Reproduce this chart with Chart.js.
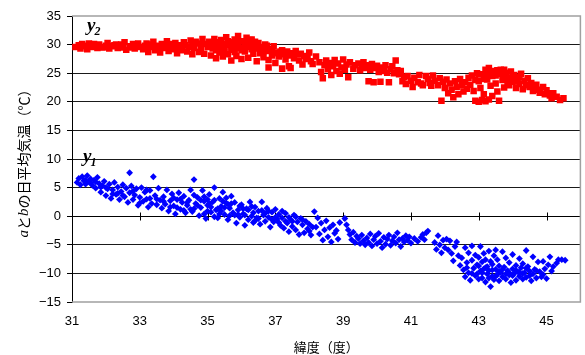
<!DOCTYPE html>
<html>
<head>
<meta charset="utf-8">
<script src="https://cdn.jsdelivr.net/npm/chart.js@4/dist/chart.umd.min.js"></script>
<style>
  html, body { margin: 0; padding: 0; background: #fff; }
  #wrap { width: 585px; height: 355px; }
</style>
</head>
<body>
<div id="wrap"><canvas id="tempChart" width="585" height="355"></canvas></div>
<script>
// 目盛り
const xTicks = [31, 33, 35, 37, 39, 41, 43, 45];
const yTicks = [-15, -10, -5, 0, 5, 10, 15, 20, 25, 30, 35];

// y1: [緯度, 日平均気温]
const y1Points = [
  [31.15,5.9],[31.2,6.6],[31.25,5.5],[31.3,6.9],[31.35,6.2],[31.4,5.6],[31.45,7.1],[31.5,6.0],[31.55,6.5],[31.6,5.4],
  [31.65,6.3],[31.7,4.9],[31.75,6.8],[31.8,5.7],[31.85,4.2],[31.9,5.3],[31.95,6.1],[32.0,3.6],[32.05,4.8],[32.1,5.6],
  [32.15,3.1],[32.2,4.6],[32.25,5.9],[32.3,3.8],[32.35,5.1],[32.4,2.9],[32.45,4.3],[32.5,5.5],[32.55,3.4],[32.6,4.9],[32.7,7.6],
  [32.65,2.4],[32.7,4.1],[32.75,5.3],[32.8,2.9],[32.85,3.7],[32.9,4.8],[32.95,1.9],[33.0,3.3],[33.05,5.0],[33.1,2.6],
  [33.15,4.2],[33.2,3.0],[33.25,1.6],[33.3,4.5],[33.35,2.2],[33.4,6.9],[33.45,3.6],[33.5,2.0],[33.55,4.9],[33.6,2.8],
  [33.65,1.4],[33.7,3.4],[33.75,2.1],[33.8,4.6],[33.85,0.9],[33.9,2.7],[33.95,3.9],[34.0,1.8],[34.05,0.4],[34.1,2.9],
  [34.15,4.1],[34.2,1.2],[34.25,2.4],[34.3,3.5],[34.35,0.6],[34.4,1.9],[34.45,2.8],[34.5,4.6],
  [34.55,0.8],[34.6,6.4],[34.65,2.2],[34.7,3.3],[34.75,0.1],[34.8,1.5],[34.85,4.5],[34.9,2.6],[34.95,-0.4],[35.0,1.9],
  [35.05,3.8],[35.1,0.7],[35.15,2.5],[35.2,5.0],[35.25,1.1],[35.3,-0.3],[35.35,3.1],[35.4,1.7],[35.45,4.2],[35.5,0.3],
  [35.55,2.3],[35.6,-0.6],[35.65,1.4],[35.7,3.5],
  [34.3,1.0],[34.6,1.3],[34.9,0.4],[35.0,2.9],[35.2,-0.1],[35.4,0.9],[35.6,2.1],[35.8,0.2],
  [35.75,0.6],[35.8,2.4],[35.85,-1.2],[35.9,1.1],[35.95,-0.2],[36.0,2.0],[36.05,0.4],[36.1,-1.6],[36.15,1.3],[36.2,-0.6],
  [36.25,2.5],[36.3,0.0],[36.35,-1.1],[36.4,1.6],[36.45,-0.3],
  [36.5,0.9],[36.55,-1.4],[36.6,2.5],[36.65,0.2],[36.7,-0.9],[36.75,1.4],[36.8,-0.2],[36.85,-1.9],[36.9,0.7],[36.95,-1.0],
  [37.0,1.2],[37.05,-0.5],[37.1,0.3],[37.15,-1.6],
  [37.2,-0.3],[37.25,-2.1],[37.3,0.5],[37.35,-1.2],[37.4,-2.7],[37.45,-0.6],[37.5,-1.8],[37.55,0.2],[37.6,-2.4],[37.65,-1.0],
  [37.7,-3.2],[37.75,-0.4],[37.8,-1.5],[37.85,-2.9],[37.9,-0.9],[37.95,-2.2],[38.0,-1.4],[38.05,-3.3],
  [38.15,0.8],[38.2,-1.9],[38.25,-0.3],[38.3,-3.1],[38.35,-1.2],[38.4,-4.2],[38.45,-2.4],[38.5,-0.8],[38.55,-3.6],[38.6,-2.0],
  [38.65,-4.5],[38.7,-1.5],[38.75,-3.0],[38.8,-2.5],[38.85,-4.0],[38.9,-1.1],
  [39.05,-0.4],[39.1,-1.5],[39.15,-2.4],[39.2,-3.2],[39.25,-4.1],[39.3,-2.8],[39.35,-4.6],[39.4,-3.5],[39.45,-3.9],[39.5,-4.8],
  [39.55,-3.3],[39.6,-4.3],[39.65,-5.0],
  [39.7,-3.8],[39.75,-4.6],[39.8,-3.1],[39.85,-5.2],[39.9,-4.1],[39.95,-3.5],[40.0,-4.8],[40.05,-3.0],[40.1,-4.4],[40.15,-5.5],
  [40.2,-3.7],[40.25,-4.9],[40.3,-4.0],[40.35,-3.3],[40.4,-5.1],[40.45,-4.3],[40.5,-3.6],[40.55,-4.7],[40.6,-2.9],[40.65,-4.1],
  [40.7,-5.3],[40.75,-3.9],[40.8,-4.5],[40.85,-3.4],
  [40.9,-4.2],[40.95,-3.6],[41.0,-4.7],[41.1,-3.9],[41.2,-4.4],[41.3,-3.7],[41.35,-3.2],[41.4,-4.1],[41.45,-2.9],[41.5,-2.6],
  [41.7,-4.6],[41.75,-5.8],[41.8,-3.4],[41.85,-5.0],[41.9,-6.4],[41.95,-4.2],[42.0,-5.5],[42.05,-4.0],[42.1,-5.9],[42.15,-4.3],
  [42.2,-6.5],[42.25,-7.8],[42.3,-5.3],[42.35,-4.5],[42.4,-6.9],[42.45,-8.6],
  [42.5,-7.3],[42.55,-9.4],[42.6,-5.5],[42.6,-10.6],[42.65,-8.1],[42.7,-6.4],[42.7,-9.9],[42.75,-11.2],[42.8,-7.7],[42.8,-5.2],
  [42.85,-9.1],[42.9,-10.4],[42.9,-6.8],[42.95,-8.5],[43.0,-11.0],[43.0,-7.2],[43.05,-9.6],[43.05,-5.3],[43.1,-8.0],[43.1,-10.8],
  [43.15,-6.5],[43.15,-9.2],[43.2,-11.5],[43.2,-7.6],[43.25,-8.8],[43.25,-10.1],[43.3,-6.1],[43.3,-9.5],[43.35,-7.9],[43.35,-12.3],
  [43.4,-10.5],[43.4,-8.4],[43.45,-6.9],[43.45,-11.1],[43.5,-9.3],[43.5,-5.9],
  [43.55,-10.2],[43.55,-7.6],[43.6,-8.7],[43.6,-11.3],[43.65,-9.8],[43.7,-6.2],[43.7,-10.6],[43.75,-8.9],[43.8,-11.0],[43.8,-7.3],
  [43.85,-9.5],[43.9,-10.3],[43.9,-8.1],[43.95,-11.6],[44.0,-9.2],[44.0,-6.7],[44.05,-10.0],[44.1,-8.6],[44.1,-11.2],[44.15,-9.7],
  [44.2,-7.4],[44.2,-10.5],[44.25,-9.0],[44.3,-11.0],[44.3,-8.3],[44.35,-9.9],[44.4,-6.0],[44.4,-10.7],[44.45,-8.8],[44.5,-9.6],
  [44.55,-11.3],[44.6,-7.1],[44.6,-10.1],[44.65,-9.3],
  [44.7,-10.8],[44.75,-8.0],[44.8,-9.7],[44.85,-10.6],[44.9,-7.9],[44.95,-9.2],[45.0,-10.9],[45.05,-8.5],[45.1,-7.1],[45.15,-9.6],
  [45.2,-8.8],[45.3,-8.2],[45.35,-7.6],[45.45,-7.6],[45.55,-7.7],
  [31.4,6.3],[31.55,5.8],[31.7,6.0],[31.85,5.1],[32.0,5.0],[32.2,3.9],[32.35,4.0],[32.5,3.6],[32.8,4.4],[33.0,2.3],[33.2,4.6],
  [33.3,3.1],[33.5,3.0],[33.7,2.6],[33.9,1.6],[34.0,3.2],[34.1,1.5],[34.2,3.0],[34.4,2.4],[34.5,1.2],[34.6,3.7],[34.7,1.9],
  [34.8,2.8],[34.9,3.4],[35.0,0.9],[35.05,2.2],[35.1,1.6],[35.2,2.8],[35.3,1.3],[35.35,0.4],[35.45,2.6],[35.5,1.5],[35.55,3.2],
  [35.65,0.1],[35.7,2.2],[35.9,0.3],[35.95,1.8],[36.05,1.3],[36.1,0.2],[36.2,1.1],[36.3,1.7],[36.35,0.6],[36.4,-0.8],[36.5,-0.4],
  [36.6,1.0],[36.7,0.5],[36.8,0.9],[36.9,-0.6],[37.0,-0.2],[37.1,-1.1],[37.2,0.9],[37.3,-0.9],[37.4,-0.2],[37.5,-0.9],[37.6,-0.1],
  [37.8,-0.6],[38.0,-2.6],[38.1,-1.9],
  [42.65,-9.0],[42.8,-10.0],[42.95,-10.1],[43.0,-8.7],[43.1,-9.9],[43.2,-9.0],[43.3,-10.8],[43.4,-9.4],[43.5,-10.5],[43.6,-9.7],
  [43.7,-9.3],[43.8,-10.1],[43.9,-9.9],[44.0,-10.4],[44.1,-9.5],[44.2,-9.8],[44.3,-10.0],[44.4,-9.1],[44.5,-10.4],[44.7,-9.5],[44.9,-10.2]
];

// y2: [緯度, 日平均気温]
const y2Points = [
  [31.1,29.6],[31.2,29.9],[31.25,29.3],[31.3,30.1],[31.4,29.7],[31.45,29.2],[31.5,30.2],[31.6,29.6],[31.7,29.9],[31.75,29.4],
  [31.8,30.0],[31.9,29.5],[32.0,29.8],[32.05,30.3],[32.1,29.3],[32.2,29.7],[32.3,30.0],[32.35,29.4],[32.4,29.8],[32.5,29.5],
  [32.55,30.4],[32.6,29.1],[32.7,29.7],[32.8,30.1],[32.85,29.3],[32.9,29.9],[33.0,29.6],
  [33.1,29.2],[33.2,30.2],[33.25,28.7],[33.3,29.6],[33.4,30.5],[33.45,29.0],[33.5,29.8],[33.6,28.6],[33.65,30.1],[33.7,29.4],
  [33.8,30.6],[33.85,28.9],[33.9,29.7],[34.0,29.2],[34.05,30.3],[34.1,28.5],[34.2,29.9],[34.25,29.0],[34.3,30.4],[34.4,28.8],
  [34.45,29.6],[34.5,30.7],[34.55,28.3],[34.6,29.4],[34.7,30.2],[34.75,28.7],[34.8,29.9],[34.85,31.0],[34.9,28.4],[35.0,29.6],
  [35.05,30.5],[35.1,28.1],[35.15,29.3],[35.2,31.0],[35.25,27.6],[35.3,29.9],[35.35,28.6],[35.4,30.8],[35.45,27.9],[35.5,29.5],
  [35.55,31.3],[35.6,28.3],[35.65,30.2],[35.7,27.2],[35.75,29.1],[35.8,30.9],[35.85,28.0],[35.9,31.5],[35.95,29.4],[36.0,27.5],
  [36.05,30.6],[36.1,28.8],[36.15,31.2],[36.2,27.7],[36.25,29.8],[36.3,30.9],[36.35,28.4],[36.4,29.3],[36.45,27.1],[36.5,30.3],
  [35.3,30.4],[35.6,29.9],[35.9,30.1],[36.0,29.0],[36.2,30.0],[36.3,29.2],[36.45,29.7],[35.8,28.7],[35.15,30.0],[35.5,28.6],
  [36.55,28.5],[36.6,29.6],[36.65,27.8],[36.7,30.0],[36.75,28.9],[36.8,27.3],[36.85,29.2],[36.9,28.1],[36.95,29.7],[37.0,26.8],
  [37.05,28.6],[37.1,27.9],[37.2,29.0],[37.25,28.3],[37.3,27.4],[37.35,28.8],[37.4,26.2],[37.5,28.5],[37.55,27.6],[37.6,28.9],
  [37.7,27.2],[37.75,28.4],[37.8,26.5],[37.85,28.0],[37.9,27.5],[38.0,28.6],[38.05,27.1],[38.1,26.6],[38.2,27.9],
  [36.8,26.0],[37.2,25.8],[37.45,25.9],
  [38.3,26.9],[38.35,25.2],[38.4,24.1],[38.45,26.4],[38.5,27.2],[38.55,25.7],[38.6,26.8],[38.65,24.7],[38.7,26.2],[38.75,27.3],
  [38.8,25.4],[38.85,26.7],[38.9,24.9],[38.95,26.0],[39.0,27.4],[39.05,25.6],[39.1,26.5],[39.15,24.3],[39.2,26.9],[39.3,25.8],
  [39.35,26.4],
  [39.45,26.7],[39.5,25.5],[39.55,26.2],[39.6,26.9],[39.65,25.9],[39.7,26.4],[39.75,23.6],[39.8,25.6],[39.85,26.6],[39.9,23.4],
  [39.95,25.9],[40.0,26.3],[40.05,25.2],[40.1,23.5],[40.15,26.0],[40.2,25.4],[40.25,26.4],[40.3,25.1],[40.35,23.4],[40.4,25.7],
  [40.45,26.2],[40.5,25.0],[40.55,27.2],[40.6,25.5],
  [40.65,24.8],[40.7,25.4],[40.75,23.6],[40.8,24.3],[40.85,23.1],[40.9,24.5],[41.0,23.7],[41.05,22.6],[41.1,24.2],[41.2,23.4],
  [41.25,24.7],[41.3,23.2],[41.35,22.9],
  [41.45,24.5],[41.5,24.0],[41.55,23.3],[41.6,22.8],[41.65,24.6],[41.7,23.7],[41.8,22.9],[41.85,24.1],[41.9,20.2],[41.95,23.5],
  [42.0,22.4],[42.05,23.9],
  [42.1,21.5],[42.15,23.2],[42.2,22.1],[42.25,20.8],[42.3,23.6],[42.35,22.6],[42.4,21.3],[42.45,24.0],[42.5,22.9],[42.55,21.8],
  [42.6,23.4],[42.65,22.3],[42.7,24.2],
  [42.75,23.0],[42.8,24.6],[42.85,21.9],[42.9,20.2],[42.95,25.0],[43.0,23.6],[43.0,20.0],[43.05,22.4],[43.1,24.8],[43.1,20.3],
  [43.15,21.3],[43.2,25.6],[43.2,20.1],[43.25,23.9],[43.3,25.9],[43.3,20.4],[43.35,22.8],[43.4,24.5],[43.4,21.0],[43.45,25.4],
  [43.5,23.2],[43.55,21.8],[43.6,24.9],[43.6,20.2],
  [43.65,25.6],[43.7,23.8],[43.75,22.5],[43.8,25.1],[43.85,24.2],[43.9,22.9],[43.95,25.3],[44.0,23.5],[44.05,24.7],[44.1,22.4],
  [44.15,24.0],[44.2,23.1],[44.25,24.9],[44.3,22.2],[44.35,23.7],
  [44.45,24.1],[44.5,22.6],[44.55,23.3],[44.6,21.9],[44.7,23.0],[44.75,22.1],[44.8,21.6],[44.9,22.6],[44.95,21.3],[45.0,22.0],
  [45.1,21.1],[45.15,20.6],[45.2,21.5],[45.3,20.9],[45.4,20.3],[45.5,20.6],
  [31.35,29.8],[31.65,30.1],[31.95,29.6],[32.25,29.9],[32.45,30.0],[32.75,29.5],[32.95,30.2],
  [33.15,29.8],[33.35,30.0],[33.55,29.3],[33.75,29.8],[33.95,30.1],[34.15,29.6],[34.35,29.9],[34.55,29.8],[34.65,30.5],
  [34.8,28.9],[34.95,30.1],[35.1,30.2],[35.25,29.0],[35.4,29.5],[35.45,30.1],[35.6,30.6],[35.7,29.4],[35.75,30.4],[35.85,29.6],
  [35.95,30.6],[36.05,29.3],[36.1,30.2],[36.15,29.6],[36.25,30.8],[36.35,29.7],[36.4,30.5],[36.55,29.4],[36.65,28.9],[36.75,29.8],
  [36.9,29.1],[37.0,28.5],[37.15,28.8],[37.4,28.1],[37.65,28.3],[37.95,27.9],
  [42.9,23.8],[43.0,24.8],[43.15,24.0],[43.25,24.8],[43.35,25.1],[43.5,24.6],[43.55,25.5],[43.7,24.9],[43.75,25.6],[43.85,23.4],
  [44.0,24.5],[44.1,23.6],[44.2,24.3],[44.4,22.9],[44.65,22.7],[45.05,21.5]
];

const toXY = pts => pts.map(([x, y]) => ({ x: x, y: y }));

const tickFont = { family: '"Liberation Sans", Arial, sans-serif', size: 13 };
const cjkFont = '"Noto Sans CJK JP", sans-serif';

// 枠線、y=0 の横軸、系列名、縦軸タイトル
const frameAndLabels = {
  id: 'frameAndLabels',
  beforeDatasetsDraw(chart) {
    const { ctx, chartArea: a, scales: { x, y } } = chart;
    const y0 = Math.round(y.getPixelForValue(0)) + 0.5;
    ctx.save();
    ctx.strokeStyle = '#000';
    ctx.lineWidth = 1;
    ctx.beginPath();
    ctx.moveTo(a.left, y0);
    ctx.lineTo(a.right, y0);
    xTicks.forEach(v => {
      const px = Math.round(x.getPixelForValue(v)) + 0.5;
      ctx.moveTo(px, y0 - 4);
      ctx.lineTo(px, y0 + 4);
    });
    ctx.stroke();

    ctx.strokeStyle = '#a0a0a0';
    ctx.lineWidth = 1.5;
    ctx.beginPath();
    ctx.moveTo(a.left, a.top);
    ctx.lineTo(a.right, a.top);
    ctx.lineTo(a.right, a.bottom);
    ctx.lineTo(a.left, a.bottom);
    ctx.stroke();
    ctx.restore();
  },
  afterDraw(chart) {
    const { ctx } = chart;
    ctx.save();
    ctx.fillStyle = '#000';
    ctx.textBaseline = 'alphabetic';
    ctx.textAlign = 'left';

    // 系列名 y2, y1
    const seriesName = (x, yBase, sub) => {
      ctx.font = 'italic bold 19px "Liberation Serif", serif';
      ctx.fillText('y', x, yBase);
      const w = ctx.measureText('y').width;
      ctx.font = 'italic bold 12px "Liberation Serif", serif';
      ctx.fillText(sub, x + w - 1, yBase + 4);
    };
    seriesName(87, 31, '2');
    seriesName(83, 162, '1');

    // 縦軸タイトル（a, b はイタリック）
    const parts = [
      { t: 'a', f: 'italic 15px "Liberation Serif", serif' },
      { t: 'と', f: '14px ' + cjkFont },
      { t: 'b', f: 'italic 15px "Liberation Serif", serif' },
      { t: 'の日平均気温（℃）', f: '14px ' + cjkFont }
    ];
    let total = 0;
    parts.forEach(p => { ctx.font = p.f; p.w = ctx.measureText(p.t).width; total += p.w; });
    ctx.translate(24, 160);
    ctx.rotate(-Math.PI / 2);
    ctx.textBaseline = 'middle';
    let cx = -total / 2;
    parts.forEach(p => { ctx.font = p.f; ctx.fillText(p.t, cx, 0); cx += p.w; });
    ctx.restore();
  }
};

new Chart(document.getElementById('tempChart'), {
  type: 'scatter',
  data: {
    datasets: [
      {
        label: 'y1',
        data: toXY(y1Points),
        pointStyle: 'rectRot',
        radius: 3.4,
        backgroundColor: '#0000ff',
        borderColor: '#0000ff',
        borderWidth: 0
      },
      {
        label: 'y2',
        data: toXY(y2Points),
        pointStyle: 'rect',
        radius: 4.6,
        backgroundColor: '#ff0000',
        borderColor: '#ff0000',
        borderWidth: 0
      }
    ]
  },
  options: {
    responsive: false,
    animation: false,
    events: [],
    layout: { padding: { top: 16, right: 2, left: 0, bottom: 0 } },
    plugins: {
      legend: { display: false },
      tooltip: { enabled: false }
    },
    scales: {
      x: {
        type: 'linear',
        position: 'bottom',
        min: 31,
        max: 46,
        afterBuildTicks: s => { s.ticks = xTicks.map(v => ({ value: v })); },
        afterFit: s => { s.height = 53; },
        grid: { display: false, drawTicks: false },
        border: { display: false },
        ticks: { padding: 12, color: '#000', font: tickFont, autoSkip: false, maxRotation: 0 },
        title: {
          display: true,
          text: '緯度（度）',
          color: '#000',
          font: { family: cjkFont, size: 13 },
          padding: { top: 0, bottom: 0 }
        }
      },
      y: {
        min: -15,
        max: 35,
        afterBuildTicks: s => { s.ticks = yTicks.map(v => ({ value: v })); },
        afterFit: s => { s.width = 72; },
        grid: {
          color: c => (c.tick && (c.tick.value === -15 || c.tick.value === 35)) ? 'rgba(0,0,0,0)' : '#1a1a1a',
          tickColor: '#000',
          tickLength: 5,
          lineWidth: 1
        },
        border: { display: true, color: '#000', width: 1 },
        ticks: {
          padding: 6,
          color: '#000',
          font: tickFont,
          callback: v => String(v).replace('-', '−')
        }
      }
    }
  },
  plugins: [frameAndLabels]
});
</script>
</body>
</html>
